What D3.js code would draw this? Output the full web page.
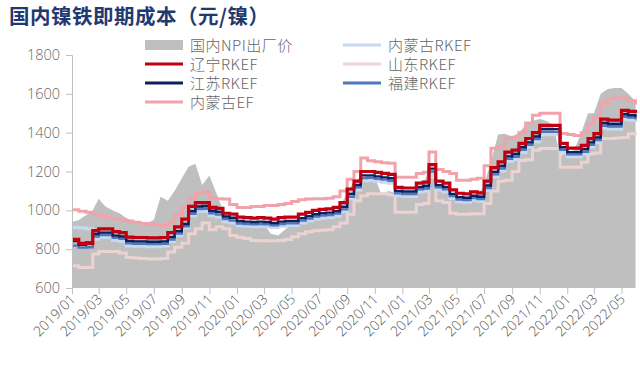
<!DOCTYPE html>
<html><head><meta charset="utf-8">
<script src="https://cdn.jsdelivr.net/npm/d3@7"></script>
<style>body{margin:0;background:#fff} svg{display:block}</style>
</head><body>
<svg id="c" width="640" height="375"></svg>
<script>
const dates=["2019-01-01","2019-01-16","2019-02-01","2019-02-16","2019-03-01","2019-03-16","2019-04-01","2019-04-16","2019-05-01","2019-05-16",
"2019-06-01","2019-06-16","2019-07-01","2019-07-16","2019-08-01","2019-08-16","2019-09-01","2019-09-16","2019-10-01","2019-10-16",
"2019-11-01","2019-11-16","2019-12-01","2019-12-16","2020-01-01","2020-01-16","2020-02-01","2020-02-16","2020-03-01","2020-03-16",
"2020-04-01","2020-04-16","2020-05-01","2020-05-16","2020-06-01","2020-06-16","2020-07-01","2020-07-16","2020-08-01","2020-08-16",
"2020-09-01","2020-09-16","2020-10-01","2020-10-16","2020-11-01","2020-11-16","2020-12-01","2020-12-16","2021-01-01","2021-01-16",
"2021-02-01","2021-02-16","2021-03-01","2021-03-16","2021-04-01","2021-04-16","2021-05-01","2021-05-16","2021-06-01","2021-06-16",
"2021-07-01","2021-07-16","2021-08-01","2021-08-16","2021-09-01","2021-09-16","2021-10-01","2021-10-16","2021-11-01","2021-11-16",
"2021-12-01","2021-12-16","2022-01-01","2022-01-16","2022-02-01","2022-02-16","2022-03-01","2022-03-16","2022-04-01","2022-04-16",
"2022-05-01","2022-05-16","2022-06-01"];

const npiPrice=[940,950,975,1000,1060,1020,1000,985,960,945, 935,935,950,1070,1050,1100,1165,1225,1240,1130,
1180,1090,1000,960,945,940,935,930,930,880, 870,900,930,940,950,960,965,970,985,1020,
1090,1150,1170,1175,1170,1080,1100,1090,1090,1095, 1110,1130,1215,1140,1120,1080,1065,1060,1070,1075,
1130,1250,1390,1395,1380,1400,1440,1460,1470,1460, 1440,1280,1300,1310,1400,1500,1500,1600,1625,1630,
1630,1600,1560];

const liaoning=[850,830,830,895,905,905,890,885,862,860, 860,858,858,860,885,915,955,1020,1040,1040,
1015,1010,985,980,965,962,960,962,960,955, 962,965,965,980,990,1000,1005,1008,1015,1040,
1110,1150,1200,1200,1195,1190,1185,1118,1115,1115, 1140,1145,1235,1150,1140,1105,1088,1085,1095,1090,
1150,1220,1250,1300,1310,1345,1370,1400,1438,1438, 1438,1345,1320,1320,1335,1370,1395,1470,1465,1465,
1515,1510,1500];

const jiangsu=[842,822,835,878,885,885,870,865,842,840, 840,838,838,840,862,892,930,995,1020,1022,
998,992,968,962,945,942,940,942,940,935, 942,945,945,960,970,980,985,988,995,1018,
1085,1130,1180,1180,1175,1170,1165,1100,1097,1097, 1120,1125,1215,1130,1120,1085,1068,1065,1075,1070,
1128,1198,1228,1278,1290,1325,1350,1380,1418,1418, 1418,1325,1300,1300,1315,1350,1375,1450,1445,1445,
1495,1490,1480];

const fujian=[818,808,810,865,873,873,858,853,830,828, 828,826,826,828,850,880,918,982,1006,1008,
985,978,955,948,932,930,928,930,928,923, 930,933,933,948,958,968,973,976,983,1005,
1070,1118,1166,1168,1163,1158,1152,1088,1084,1084, 1108,1112,1200,1118,1108,1073,1056,1053,1063,1058,
1115,1185,1215,1265,1276,1312,1338,1367,1404,1404, 1404,1312,1288,1288,1302,1338,1362,1436,1432,1432,
1482,1478,1468];

const neimengRKEF=[912,910,905,852,860,860,845,840,817,815, 815,813,813,815,840,870,908,972,995,995,
972,965,942,935,922,918,916,918,916,912, 918,922,922,935,945,955,960,963,970,995,
1060,1105,1152,1155,1150,1145,1140,1075,1072,1072, 1095,1100,1185,1105,1095,1062,1045,1042,1052,1047,
1103,1172,1203,1252,1262,1298,1325,1354,1390,1390, 1390,1300,1275,1275,1290,1325,1350,1422,1418,1418,
1468,1465,1455];

const shandong=[715,705,705,775,788,788,788,780,757,755, 752,750,750,752,785,810,830,880,905,935,
900,915,905,870,860,855,845,843,843,843, 845,850,864,880,890,895,898,900,915,935,
980,1050,1075,1085,1086,1086,1080,990,990,990, 1030,1035,1170,1050,1040,985,980,980,982,982,
1035,1100,1150,1155,1200,1257,1260,1310,1319,1319, 1319,1222,1222,1222,1248,1290,1295,1370,1370,1372,
1375,1395,1390];

const neimengEF=[1003,995,990,980,972,965,958,950,945,938, 932,930,925,922,935,975,1015,1060,1090,1095,
1065,1060,1058,1030,1015,1015,1020,1020,1025,1025, 1030,1035,1045,1055,1058,1060,1060,1062,1070,1100,
1160,1200,1270,1255,1250,1245,1243,1170,1170,1170, 1190,1196,1300,1210,1200,1190,1155,1155,1160,1165,
1230,1320,1326,1370,1377,1400,1450,1490,1500,1500, 1500,1396,1390,1386,1400,1445,1480,1550,1575,1578,
1578,1565,1545];

const yTicks=[600,800,1000,1200,1400,1600,1800];
const xTickLabels=["2019/01","2019/03","2019/05","2019/07","2019/09","2019/11","2020/01","2020/03","2020/05","2020/07","2020/09",
"2020/11","2021/01","2021/03","2021/05","2021/07","2021/09","2021/11","2022/01","2022/03","2022/05"];
const title="国内镍铁即期成本（元/镍）";
const areaName="国内NPI出厂价";

const seriesDefs=[
  {name:"山东RKEF", values:shandong, color:"#ecd2d0", w:3},
  {name:"内蒙古RKEF", values:neimengRKEF, color:"#c8d9ee", w:3.2},
  {name:"内蒙古EF", values:neimengEF, color:"#f2a2aa", w:3},
  {name:"福建RKEF", values:fujian, color:"#4f77bd", w:2.4},
  {name:"江苏RKEF", values:jiangsu, color:"#0d1f5c", w:2.4},
  {name:"辽宁RKEF", values:liaoning, color:"#c00010", w:3.2}
];

const svg=d3.select("#c");
const parse=d3.timeParse("%Y-%m-%d");
const D=dates.map(parse);
const tickParse=d3.timeParse("%Y/%m");
const x=d3.scaleTime().domain([tickParse("2019/01"),tickParse("2022/05")]).range([72,621.5]);
const y=d3.scaleLinear().domain([600,1800]).range([288,55]);

// title
svg.append("text").attr("x",9).attr("y",24).text(title)
  .attr("font-family","Noto Sans CJK SC").attr("font-weight",700).attr("font-size",20.5)
  .attr("letter-spacing",0.5).attr("fill","#1f3a70");

// area
const area=d3.area().x((d,i)=>x(D[i])).y0(y(600)).y1(d=>y(d)).curve(d3.curveLinear);
svg.append("path").datum(npiPrice).attr("d",area).attr("fill","#bfbfbf");

// lines
const line=d3.line().x((d,i)=>x(D[i])).y(d=>y(d)).curve(d3.curveStepAfter);
seriesDefs.forEach(s=>{
  svg.append("path").datum(s.values).attr("d",line).attr("fill","none")
    .attr("stroke",s.color).attr("stroke-width",s.w).attr("stroke-linejoin","miter");
});

// y axis
const gy=svg.append("g").attr("transform","translate(72,0)")
  .call(d3.axisLeft(y).tickValues(yTicks).tickSize(6).tickPadding(6).tickFormat(d3.format("d")));
gy.select(".domain").attr("stroke","#bfbfbf");
gy.selectAll(".tick line").attr("stroke","#bfbfbf");
gy.selectAll("text").attr("font-family","Open Sans").attr("font-size",14.5).attr("fill","#666").attr("font-weight",300);

// x axis
const gx=svg.append("g").attr("transform","translate(0,288)")
  .call(d3.axisBottom(x).tickValues(xTickLabels.map(tickParse)).tickSize(6).tickFormat(d3.timeFormat("%Y/%m")));
gx.select(".domain").remove();
gx.selectAll(".tick line").attr("stroke","#bfbfbf");
gx.selectAll("text").attr("font-family","Open Sans").attr("font-size",14).attr("fill","#555").attr("font-weight",300)
  .attr("text-anchor","end").attr("dy",null).attr("y",0)
  .attr("transform","translate(4,12) rotate(-45)");

// legend
const lg=svg.append("g").attr("font-family","Noto Sans CJK SC").attr("font-size",15).attr("fill","#666")
  .attr("font-weight",300).attr("letter-spacing",0.5);
const legendItems=[
  {name:areaName, type:"area", color:"#bfbfbf", col:0, row:0},
  {name:"内蒙古RKEF", color:"#c8d9ee", col:1, row:0},
  {name:"辽宁RKEF", color:"#c00010", col:0, row:1},
  {name:"山东RKEF", color:"#ecd2d0", col:1, row:1},
  {name:"江苏RKEF", color:"#0d1f5c", col:0, row:2},
  {name:"福建RKEF", color:"#4f77bd", col:1, row:2},
  {name:"内蒙古EF", color:"#f2a2aa", col:0, row:3}
];
const colX=[145,343], rowY=[45,64,83,102];
legendItems.forEach(it=>{
  const gx0=colX[it.col], gy0=rowY[it.row];
  if(it.type==="area"){
    lg.append("rect").attr("x",gx0).attr("y",gy0-5).attr("width",38).attr("height",10).attr("fill",it.color);
  } else {
    lg.append("line").attr("x1",gx0).attr("x2",gx0+38).attr("y1",gy0).attr("y2",gy0)
      .attr("stroke",it.color).attr("stroke-width",3);
  }
  lg.append("text").attr("x",gx0+45).attr("y",gy0+5.5).text(it.name);
});
</script>
</body></html>
